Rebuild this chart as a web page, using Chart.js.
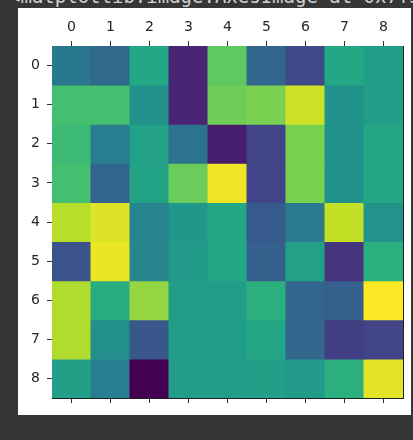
<!DOCTYPE html>
<html>
<head>
<meta charset="utf-8">
<script src="https://cdn.jsdelivr.net/npm/chart.js@4"></script>
<style>
    html, body { margin: 0; padding: 0; background: #363636; width: 413px; height: 440px; overflow: hidden; }
    #out { position: absolute; left: 9px; top: -15px; color: #d0d0d0; font: 19px "DejaVu Sans Mono", monospace; white-space: nowrap; }
    #box { position: absolute; left: 18px; top: 8px; width: 393px; height: 407px; background: #fff; }
</style>
</head>
<body>
<div id="out">&lt;matplotlib.image.AxesImage at 0x7f3c2a1b5e50&gt;</div>
<div id="box"><canvas id="heat"></canvas></div>
<script>
// 축 라벨
const xLabels = ['0', '1', '2', '3', '4', '5', '6', '7', '8'];
const yLabels = ['0', '1', '2', '3', '4', '5', '6', '7', '8'];

// 각 행의 값 (0 ~ 1, viridis)
const row0 = [0.40, 0.34, 0.60, 0.10, 0.75, 0.33, 0.22, 0.60, 0.55];
const row1 = [0.70, 0.70, 0.50, 0.10, 0.78, 0.80, 0.92, 0.50, 0.55];
const row2 = [0.68, 0.42, 0.57, 0.38, 0.08, 0.20, 0.80, 0.50, 0.59];
const row3 = [0.70, 0.32, 0.58, 0.77, 0.98, 0.20, 0.80, 0.50, 0.60];
const row4 = [0.89, 0.95, 0.45, 0.52, 0.60, 0.28, 0.41, 0.91, 0.51];
const row5 = [0.25, 0.97, 0.45, 0.54, 0.60, 0.30, 0.57, 0.15, 0.63];
const row6 = [0.88, 0.62, 0.84, 0.55, 0.55, 0.63, 0.32, 0.30, 1.00];
const row7 = [0.88, 0.49, 0.27, 0.55, 0.55, 0.59, 0.33, 0.18, 0.20];
const row8 = [0.56, 0.42, 0.00, 0.55, 0.55, 0.56, 0.54, 0.63, 0.96];
const rows = [row0, row1, row2, row3, row4, row5, row6, row7, row8];

// viridis 컬러맵
const viridisStops = [
    [68, 1, 84], [72, 36, 117], [65, 68, 135], [53, 95, 141], [42, 120, 142],
    [33, 145, 140], [34, 168, 132], [68, 191, 112], [122, 209, 81], [189, 223, 38], [253, 231, 37]
];

function viridis(v) {
    const t = Math.max(0, Math.min(1, v)) * (viridisStops.length - 1);
    const i = Math.min(Math.floor(t), viridisStops.length - 2);
    const f = t - i;
    const a = viridisStops[i], b = viridisStops[i + 1];
    const c = a.map((k, j) => Math.round(k + (b[j] - k) * f));
    return `rgb(${c[0]},${c[1]},${c[2]})`;
}

const tickFont = { family: 'DejaVu Sans', size: 14 };
const tickColor = '#333';

const datasets = rows.map((vals, r) => ({
    data: vals.map(() => [r - 0.5, r + 0.5]),
    backgroundColor: vals.map(viridis),
    borderWidth: 0,
    inflateAmount: 0.5,
    barPercentage: 1,
    categoryPercentage: 1,
    grouped: false,
    xAxisID: 'x',
    yAxisID: 'y'
}));

new Chart(document.getElementById('heat'), {
    type: 'bar',
    data: { labels: xLabels, datasets: datasets },
    options: {
        animation: false,
        responsive: true,
        maintainAspectRatio: false,
        layout: { padding: 0 },
        plugins: { legend: { display: false }, tooltip: { enabled: false } },
        scales: {
            x: {
                type: 'category',
                position: 'top',
                offset: true,
                afterFit: s => { s.height = 38; },
                grid: { offset: false, drawOnChartArea: false, tickLength: 5, color: tickColor },
                border: { display: true, color: '#222', width: 1 },
                ticks: { color: '#262626', font: tickFont, padding: 5, maxRotation: 0 }
            },
            x2: {
                type: 'category',
                labels: xLabels,
                position: 'bottom',
                offset: true,
                afterFit: s => { s.height = 17; },
                grid: { offset: false, drawOnChartArea: false, tickLength: 5, color: tickColor },
                border: { display: true, color: '#222', width: 1 },
                ticks: { display: false }
            },
            y: {
                type: 'linear',
                position: 'left',
                reverse: true,
                min: -0.5,
                max: 8.5,
                afterFit: s => { s.width = 34; },
                afterBuildTicks: s => { s.ticks = yLabels.map((_, i) => ({ value: i })); },
                grid: { drawOnChartArea: false, tickLength: 5, color: tickColor },
                border: { display: true, color: '#222', width: 1 },
                ticks: { color: '#262626', font: tickFont, padding: 7, callback: (v, i) => yLabels[i] }
            },
            y2: {
                type: 'linear',
                position: 'right',
                afterFit: s => { s.width = 8; },
                grid: { display: false },
                border: { display: true, color: '#222', width: 1 },
                ticks: { display: false }
            }
        }
    }
});
</script>
</body>
</html>
